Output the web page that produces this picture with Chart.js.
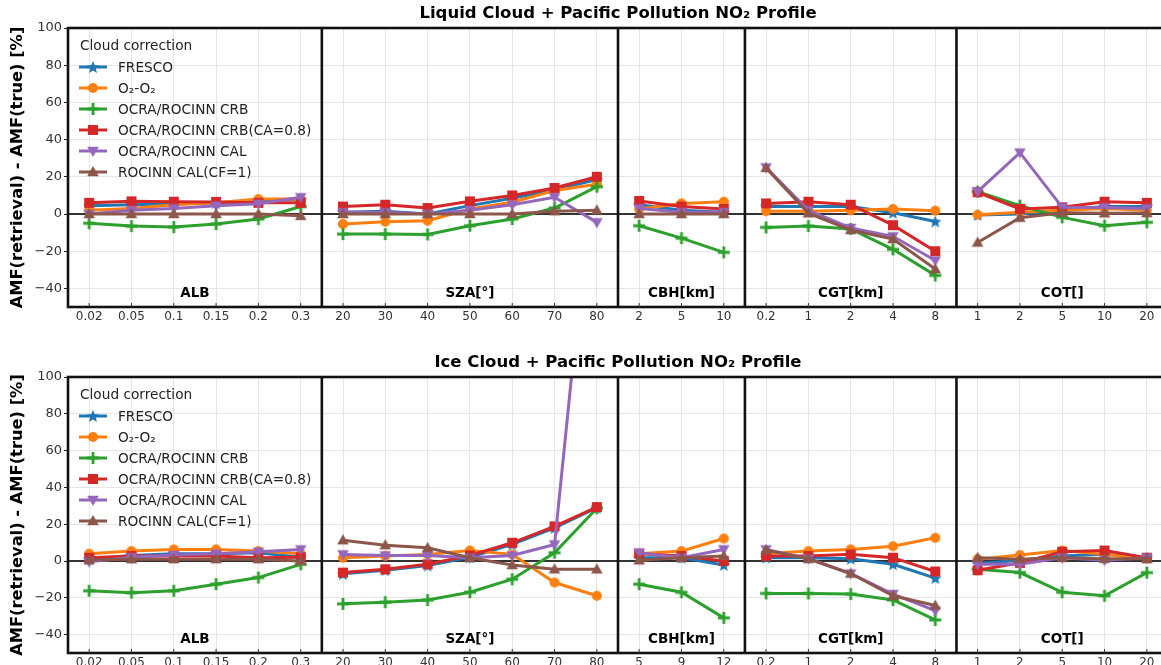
<!DOCTYPE html>
<html>
<head>
<meta charset="utf-8">
<script src="https://cdn.jsdelivr.net/npm/chart.js@4"></script>
<style>
  body { margin: 0; width: 1161px; height: 665px; overflow: hidden; background: #fff; }
  canvas { position: absolute; left: 0; }
</style>
</head>
<body>
<canvas id="liquid" width="1180" height="345" style="top:0"></canvas>
<canvas id="ice" width="1180" height="345" style="top:345px"></canvas>
<script>
// x categories: ALB, SZA, CBH, CGT, COT blocks laid side by side
const liquidLabels = ['0.02','0.05','0.1','0.15','0.2','0.3', '20','30','40','50','60','70','80', '2','5','10', '0.2','1','2','4','8', '1','2','5','10','20'];
const iceLabels    = ['0.02','0.05','0.1','0.15','0.2','0.3', '20','30','40','50','60','70','80', '5','9','12', '0.2','1','2','4','8', '1','2','5','10','20'];
const groupNames = ['ALB', 'SZA[°]', 'CBH[km]', 'CGT[km]', 'COT[]'];
const groupSizes = [6, 7, 3, 5, 5];
const yTicks = [-40, -20, 0, 20, 40, 60, 80, 100];

const seriesNames = ['FRESCO', 'O₂-O₂', 'OCRA/ROCINN CRB', 'OCRA/ROCINN CRB(CA=0.8)', 'OCRA/ROCINN CAL', 'ROCINN CAL(CF=1)'];
const colors = ['#1f77b4', '#ff7f0e', '#2ca02c', '#d62728', '#9467bd', '#8c564b'];
const shapes = ['star', 'circle', 'plus', 'square', 'triDown', 'triUp'];

// liquid cloud
const liquidFresco = [4.5, 5, 5.5, 6, 7, 8,  1, 1.5, 0, 4.5, 8.5, 13, 18.5,  5, 2, 1,  4, 4, 4, 0.7, -4,  -0.5, 0, 2, 4, 4];
const liquidO2     = [2, 3, 5, 6, 8, 8,  -5.4, -4.2, -3.6, 2.7, 6.3, 12.6, 16,  2.7, 5.7, 6.6,  1.5, 1.5, 2, 2.7, 1.8,  -0.4, 1, 2, 3, 2];
const liquidCRB    = [-5, -6.5, -7, -5.4, -2.7, 4,  -10.8, -10.8, -11, -6.3, -2.7, 3.2, 14.7,  -6.3, -13, -20.6,  -7.2, -6.5, -8, -19, -33,  12, 4.5, -1.8, -6.3, -4.5];
const liquidCRB08  = [6, 6.8, 6.6, 6.5, 6, 6,  4, 5, 3.2, 6.8, 10, 14, 20,  7, 4, 2.7,  5.7, 6.6, 5, -6, -20,  11.7, 2.7, 3.6, 6.6, 6];
const liquidCAL    = [0, 2, 3, 4.5, 5.5, 9,  1, 1, 0, 2, 5, 9, -4.5,  3, 1, 1,  25, 2, -7.5, -12, -25,  12, 33, 3.6, 3.5, 3];
const liquidCF1    = [0, 0, 0, 0, 0, -1,  0, 0, 0, 0, 0, 1.5, 2,  0, 0, 0,  24.8, 0.4, -8.6, -13.5, -29.6,  -15.3, -2, 0.7, 0.4, 0.5];

// ice cloud
const iceFresco = [1, 3, 4, 4, 4.5, 2,  -7, -5, -2.5, 2, 9, 18, 29,  1.8, 1.8, -2.2,  1.8, 1.8, 1.2, -1.8, -9.3,  -1.4, 0.4, 2.7, 3.6, 1.8];
const iceO2     = [4, 5.4, 6.3, 6.3, 5.4, 4,  1.8, 2.7, 3.6, 5.7, 3.6, -11.7, -18.9,  4, 5.4, 12.2,  4, 5.4, 6.3, 8, 12.6,  1, 3.2, 5.7, 3.6, 1.2];
const iceCRB    = [-16.2, -17.2, -16.2, -12.6, -9, -1.8,  -23.3, -22.4, -21.2, -17, -9.9, 4.5, 28.7,  -12.6, -17, -30.9,  -17.6, -17.6, -18, -21.2, -32,  -4.5, -6.3, -17, -18.9, -6.3];
const iceCRB08  = [1.8, 2.7, 2.7, 2.7, 1.8, 2,  -6.3, -4.5, -1.8, 3, 9.9, 18.8, 29.3,  4, 2.7, 0,  2.7, 2.7, 3.6, 1.8, -5.7,  -5, -1, 5, 5.7, 1.8];
const iceCAL    = [-0.4, 2, 3.2, 4, 5, 6.3,  3.6, 3, 3, 1.8, 3, 9, 236,  4.5, 1.8, 6.3,  6.3, 1.2, -6.8, -18, -27,  -1.8, -1.8, 1.8, 0.4, 1.8];
const iceCF1    = [0.5, 1, 1, 1, 1, 0,  11.3, 8.6, 7.2, 1.8, -2.2, -4.5, -4.5,  0.4, 1.8, 2.7,  6, 1.2, -6.8, -18.9, -24.2,  1.8, 1, 1.8, 1.2, 1.2];

const FONT = "'DejaVu Sans', sans-serif";

// index where each block starts
const groupStarts = [];
groupSizes.reduce((acc, n) => { groupStarts.push(acc); return acc + n; }, 0);

function makeMarker(shape, color) {
    let c = document.createElement('canvas');
    c.width = 16; c.height = 16;
    let g = c.getContext('2d');
    let m = 8;
    g.fillStyle = color;
    g.strokeStyle = color;
    g.beginPath();
    if (shape == 'star') {
        for (let k = 0; k < 10; k++) {
            let r = k % 2 ? 3 : 6.6;
            let a = -Math.PI / 2 + k * Math.PI / 5;
            g.lineTo(m + r * Math.cos(a), m + 0.6 + r * Math.sin(a));
        }
        g.closePath();
        g.fill();
    } else if (shape == 'circle') {
        g.arc(m, m, 5, 0, Math.PI * 2);
        g.fill();
    } else if (shape == 'plus') {
        g.lineWidth = 2.8;
        g.moveTo(m - 6, m); g.lineTo(m + 6, m);
        g.moveTo(m, m - 6); g.lineTo(m, m + 6);
        g.stroke();
    } else if (shape == 'square') {
        g.rect(m - 5, m - 5, 10, 10);
        g.fill();
    } else if (shape == 'triDown') {
        g.moveTo(m - 5.8, m - 4.3); g.lineTo(m + 5.8, m - 4.3); g.lineTo(m, m + 5.9);
        g.closePath();
        g.fill();
    } else {
        g.moveTo(m - 5.8, m + 4.3); g.lineTo(m + 5.8, m + 4.3); g.lineTo(m, m - 5.9);
        g.closePath();
        g.fill();
    }
    return c;
}

const markers = shapes.map((s, i) => makeMarker(s, colors[i]));

// frame, block separators, zero line, block names, legend and titles
const decor = {
    id: 'decor',
    beforeDatasetsDraw(chart) {
        let ctx = chart.ctx, a = chart.chartArea;
        let y = chart.scales.y;
        ctx.save();
        ctx.strokeStyle = '#333';
        ctx.lineWidth = 1.8;
        let y0 = y.getPixelForValue(0);
        ctx.beginPath(); ctx.moveTo(a.left, y0); ctx.lineTo(a.right, y0); ctx.stroke();
        ctx.restore();
    },
    afterDatasetsDraw(chart) {
        let ctx = chart.ctx, a = chart.chartArea;
        let x = chart.scales.x, y = chart.scales.y;
        ctx.save();
        ctx.strokeStyle = '#111';
        ctx.lineWidth = 2.6;
        ctx.strokeRect(a.left, a.top, a.right - a.left, a.bottom - a.top);
        for (let k = 1; k < groupStarts.length; k++) {
            let i = groupStarts[k];
            let px = (x.getPixelForValue(i - 1) + x.getPixelForValue(i)) / 2;
            ctx.beginPath(); ctx.moveTo(px, a.top); ctx.lineTo(px, a.bottom); ctx.stroke();
        }
        // small inward ticks on the bottom axis
        ctx.lineWidth = 1;
        ctx.strokeStyle = '#333';
        for (let i = 0; i < chart.data.labels.length; i++) {
            let px = x.getPixelForValue(i);
            ctx.beginPath(); ctx.moveTo(px, a.bottom); ctx.lineTo(px, a.bottom - 4); ctx.stroke();
        }
        // block names
        ctx.fillStyle = '#000';
        ctx.font = 'bold 13.5px ' + FONT;
        ctx.textAlign = 'center';
        ctx.textBaseline = 'middle';
        groupStarts.forEach((s, k) => {
            let px = (x.getPixelForValue(s) + x.getPixelForValue(s + groupSizes[k] - 1)) / 2;
            ctx.fillText(groupNames[k], px, y.getPixelForValue(-40) + 5);
        });
        ctx.restore();
    },
    afterDraw(chart, args, opts) {
        let ctx = chart.ctx, a = chart.chartArea;
        ctx.save();
        // title
        ctx.fillStyle = '#000';
        ctx.textAlign = 'center';
        ctx.textBaseline = 'middle';
        ctx.font = 'bold 16.5px ' + FONT;
        ctx.fillText(opts.title, (a.left + a.right) / 2, a.top - 14);
        // y axis title
        ctx.save();
        ctx.translate(18, (a.top + a.bottom) / 2);
        ctx.rotate(-Math.PI / 2);
        ctx.font = 'bold 16.3px ' + FONT;
        ctx.fillText('AMF(retrieval) - AMF(true) [%]', 0, 0);
        ctx.restore();
        // legend
        ctx.textAlign = 'left';
        ctx.font = '13.7px ' + FONT;
        ctx.fillStyle = '#222';
        ctx.fillText('Cloud correction', a.left + 12, a.top + 18);
        seriesNames.forEach((name, i) => {
            let ry = a.top + 39 + i * 21;
            ctx.strokeStyle = colors[i];
            ctx.lineWidth = 3;
            ctx.beginPath(); ctx.moveTo(a.left + 11, ry); ctx.lineTo(a.left + 39, ry); ctx.stroke();
            ctx.drawImage(markers[i], a.left + 25 - 8, ry - 8);
            ctx.fillStyle = '#222';
            ctx.fillText(name, a.left + 50, ry + 1);
        });
        ctx.restore();
    }
};

function makePanel(id, title, labels, series, padTop, axisHeight) {
    return new Chart(document.getElementById(id), {
        type: 'line',
        data: {
            labels: labels,
            datasets: series.map((d, i) => ({
                label: seriesNames[i],
                data: d,
                borderColor: colors[i],
                backgroundColor: colors[i],
                borderWidth: 3,
                pointStyle: markers[i],
                pointRadius: 5,
                tension: 0,
                order: 6 - i,
                // no line between the last point of one block and the first of the next
                segment: {
                    borderColor: ctx => groupStarts.includes(ctx.p1DataIndex) ? 'rgba(0,0,0,0)' : undefined
                }
            }))
        },
        options: {
            responsive: false,
            animation: false,
            events: [],
            layout: { padding: { top: padTop, right: 12, left: 0, bottom: 0 } },
            plugins: {
                legend: { display: false },
                tooltip: { enabled: false },
                decor: { title: title }
            },
            scales: {
                x: {
                    type: 'category',
                    offset: true,
                    grid: { offset: false, color: '#e6e6e6', drawTicks: false },
                    border: { display: false },
                    ticks: { autoSkip: false, maxRotation: 0, padding: 3, color: '#333', font: { family: FONT, size: 12 } },
                    afterFit: s => { s.height = axisHeight; }
                },
                y: {
                    min: -50,
                    max: 100,
                    afterBuildTicks: s => { s.ticks = yTicks.map(v => ({ value: v })); },
                    grid: { color: '#e6e6e6', tickLength: 4, tickColor: '#222' },
                    border: { display: false },
                    ticks: {
                        padding: 2,
                        color: '#333',
                        font: { family: FONT, size: 13 },
                        callback: v => String(v).replace('-', '\u2212')
                    },
                    afterFit: s => { s.width = 68; }
                }
            }
        },
        plugins: [decor]
    });
}

makePanel('liquid', 'Liquid Cloud + Pacific Pollution NO₂ Profile', liquidLabels,
    [liquidFresco, liquidO2, liquidCRB, liquidCRB08, liquidCAL, liquidCF1], 28, 38);
makePanel('ice', 'Ice Cloud + Pacific Pollution NO₂ Profile', iceLabels,
    [iceFresco, iceO2, iceCRB, iceCRB08, iceCAL, iceCF1], 32, 37);
</script>
</body>
</html>
